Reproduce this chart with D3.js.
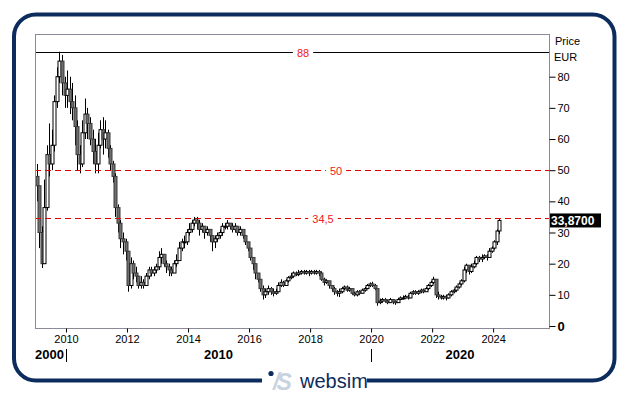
<!DOCTYPE html>
<html>
<head>
<meta charset="utf-8">
<script src="https://cdn.jsdelivr.net/npm/d3@7"></script>
<style>
  body { margin: 0; background: #fff; }
  svg { display: block; font-family: Arial, "Liberation Sans", sans-serif; }
</style>
</head>
<body>
<div id="chart"></div>
<script>
const W = 629, H = 395
const PLOT = {LEFT: 35, RIGHT: 549, TOP: 34, BOTTOM: 328}

// monthly candles, Jan 2009 .. Mar 2024 (open = previous close)
const firstOpen = 48
const closes = [
  45, 30, 20, 38, 55, 52, 58, 72, 80, 85, 78, 74,
  76, 72, 70, 64, 55, 52, 62, 68, 65, 60, 56, 52,
  58, 63, 60, 62, 57, 52, 48, 38, 33, 28, 27, 24,
  13, 20, 17, 16, 13, 14, 13, 16, 18, 17, 18, 19,
  22, 23, 20, 19, 18, 17, 20, 21, 25, 27, 27, 30,
  31, 33, 34, 33, 31, 32, 30, 31, 29, 27, 28, 29,
  30, 32, 32, 33, 32, 31, 32, 30, 31, 29, 27, 25,
  22, 20, 17, 15, 12, 10, 11, 12, 11, 10.5, 11, 13,
  14, 13, 14.5, 15.5, 16, 17, 16.5, 17, 17.5, 17, 17.5, 17,
  17.5, 17, 17.5, 17, 15, 14, 14.5, 13, 12, 11, 10.5, 11,
  12, 12.5, 11.5, 12, 10.5, 10, 11, 10.5, 11.5, 12, 13, 13.5,
  13, 12, 7.5, 8, 8.5, 8, 7.5, 8.5, 7.8, 7.5, 8.5, 9,
  9, 9.5, 9, 10.5, 11, 10.5, 11, 11.5, 11, 12, 13, 14,
  15, 10, 9.5, 9, 9.5, 9, 10, 11, 11.5, 12.5, 13.5, 14.5,
  18, 19.5, 17.5, 19, 20, 22, 21.5, 22, 22.5, 22, 24, 25,
  27, 30.5, 33.87
]
const highs = [
  52, 45, 32, 47, 58, 65, 63, 74, 83, 88, 87, 80,
  82, 80, 78, 74, 66, 58, 66, 73, 70, 67, 63, 60,
  62, 66, 67, 66, 63, 58, 53, 49, 39, 34, 30, 28,
  24, 22, 21, 19, 16, 16, 15, 17, 19, 19, 19, 20,
  24, 25, 23, 21, 20, 19, 21, 23, 27, 28, 29, 31,
  33, 34, 35, 35, 34, 33, 32, 32, 31, 29, 29, 30,
  31, 33, 33, 34, 33, 33, 33, 32, 32, 31, 29, 27,
  25, 22, 20, 17, 15, 13, 12, 13, 12.5, 12, 12, 14,
  15, 14.5, 15, 16, 17, 17.5, 17.5, 18, 18, 18, 18, 18,
  18, 18, 18, 18, 17.5, 15.5, 15, 14.5, 13, 12.5, 11.5, 12,
  12.5, 13, 13, 12.5, 12, 11, 11.5, 11.5, 12, 12.5, 13.5, 14,
  14.2, 13.5, 12, 8.8, 9, 9, 8.5, 9, 8.5, 8.2, 9, 9.5,
  9.8, 10, 10, 11, 11.5, 11.5, 11.5, 12, 12, 12.5, 13.5, 14.5,
  15.8, 15, 11, 10, 10, 10, 10.5, 11.5, 12, 13, 14, 15,
  19, 20, 19.5, 20, 21, 22.5, 22.5, 23, 23, 23, 25, 25.5,
  27.5, 31, 34.3
]
const lows = [
  40, 25, 18.6, 20, 37, 48, 50, 56, 70, 78, 74, 70,
  70, 68, 66, 58, 50, 49, 51, 60, 60, 58, 52, 49,
  49, 57, 55, 57, 54, 50, 46, 35, 30, 25, 23, 21,
  11, 12, 15, 14, 12, 12, 12, 13, 15, 16, 16, 17,
  18, 20, 19, 17, 16, 16, 17, 19, 21, 24, 25, 26,
  29, 30, 32, 31, 29, 30, 28, 29, 27, 24, 25, 27,
  28, 29, 31, 31, 31, 30, 30, 29, 29, 28, 26, 24,
  21, 18, 15, 14, 11, 8.5, 9, 10, 10, 9.5, 10, 11,
  12.5, 12.5, 13, 14, 15, 15.5, 16, 16, 16.5, 16.5, 16.5, 16,
  16.5, 16.5, 16.5, 16, 14.5, 13, 13.5, 12, 11, 10, 9.5, 9.3,
  10.5, 11.5, 11, 11, 10, 9.5, 9.5, 10, 10.5, 11, 12, 12.5,
  12.5, 11.5, 6.5, 7, 7.5, 7.5, 7, 7.5, 7, 6.8, 7.5, 8.5,
  8.5, 8.8, 8.5, 9, 10, 10, 10, 10.5, 10.5, 11, 11.5, 12.5,
  13.5, 9, 8.5, 8.5, 8.5, 8.2, 8.8, 9.5, 10.5, 11, 12, 13,
  14, 17, 16.5, 17, 18.5, 19.5, 20.5, 20.5, 21.5, 21, 22, 23.5,
  24.5, 26, 29.5
]

const yTicks = [0, 10, 20, 30, 40, 50, 60, 70, 80]
const yearTicks = [2010, 2012, 2014, 2016, 2018, 2020, 2022, 2024]
const decades = [2000, 2010, 2020]
const levels = [88, 50, 34.5]
const levelLabels = ['88', '50', '34,5']
const levelLabelX = [303, 336, 323]
const lastLabel = '33,8700'

const months = d3.timeMonth.range(new Date(2009, 0, 1), new Date(2024, 3, 1))
const candles = months.map((m, i) => ({
  date: new Date(m.getFullYear(), m.getMonth(), 15),
  open: i === 0 ? firstOpen : closes[i - 1],
  close: closes[i],
  high: highs[i],
  low: lows[i]
}))

const x = d3.scaleTime()
  .domain([new Date(2008, 11, 26), new Date(2025, 9, 31)])
  .range([PLOT.LEFT, PLOT.RIGHT])
const y = d3.scaleLinear()
  .domain([-0.64, 93.7])
  .range([PLOT.BOTTOM, PLOT.TOP])

const svg = d3.select('#chart').append('svg')
  .attr('width', W)
  .attr('height', H)

// outer frame
svg.append('rect')
  .attr('x', 14).attr('y', 14.5)
  .attr('width', 600.5).attr('height', 366)
  .attr('rx', 22)
  .attr('fill', '#fff')
  .attr('stroke', '#0c2c5e')
  .attr('stroke-width', 4)

// logo gap in bottom border
svg.append('rect')
  .attr('x', 262).attr('y', 376)
  .attr('width', 105).attr('height', 12)
  .attr('fill', '#fff')

const logo = svg.append('g')
logo.append('circle').attr('cx', 271).attr('cy', 373.5).attr('r', 2.6).attr('fill', '#0c2c5e')
logo.append('text')
  .attr('x', 273).attr('y', 390)
  .attr('font-size', 23).attr('font-style', 'italic').attr('font-weight', 'bold')
  .attr('fill', '#c9d3e0')
  .attr('letter-spacing', -3)
  .text('/S')
logo.append('text')
  .attr('x', 300).attr('y', 388)
  .attr('font-size', 20)
  .attr('fill', '#0c2c5e')
  .text('websim')

// plot background
svg.append('rect')
  .attr('x', PLOT.LEFT).attr('y', PLOT.TOP)
  .attr('width', PLOT.RIGHT - PLOT.LEFT).attr('height', PLOT.BOTTOM - PLOT.TOP)
  .attr('fill', '#fff')

const plot = svg.append('g')

// candles
const bodyW = 3
const candle = plot.selectAll('g.candle')
  .data(candles)
  .enter().append('g')
  .attr('class', 'candle')

candle.append('line')
  .attr('x1', d => Math.round(x(d.date)) + 0.5)
  .attr('x2', d => Math.round(x(d.date)) + 0.5)
  .attr('y1', d => y(d.high))
  .attr('y2', d => y(d.low))
  .attr('stroke', '#000')
  .attr('stroke-width', 1)

candle.append('rect')
  .attr('x', d => Math.round(x(d.date)) + 0.5 - bodyW / 2)
  .attr('y', d => y(Math.max(d.open, d.close)))
  .attr('width', bodyW)
  .attr('height', d => Math.max(1, Math.abs(y(d.open) - y(d.close))))
  .attr('fill', d => d.close >= d.open ? '#fff' : '#6e6e6e')
  .attr('stroke', d => d.close >= d.open ? '#000' : '#3a3a3a')
  .attr('stroke-width', 1)

// horizontal levels
levels.forEach((lv, i) => {
  plot.append('line')
    .attr('x1', PLOT.LEFT).attr('x2', PLOT.RIGHT)
    .attr('y1', Math.round(y(lv)) + 0.5).attr('y2', Math.round(y(lv)) + 0.5)
    .attr('stroke', i === 0 ? '#000' : '#e00000')
    .attr('stroke-width', 1)
    .attr('stroke-dasharray', i === 0 ? null : '6,4')
  const t = plot.append('text')
    .attr('x', levelLabelX[i])
    .attr('y', Math.round(y(lv)) + 4.5)
    .attr('text-anchor', 'middle')
    .attr('font-size', 11)
    .attr('fill', '#f02020')
    .text(levelLabels[i])
  const bb = t.node().getBBox()
  plot.insert('rect', () => t.node())
    .attr('x', bb.x - 4).attr('y', bb.y)
    .attr('width', bb.width + 8).attr('height', bb.height)
    .attr('fill', '#fff')
})

// plot border
svg.append('rect')
  .attr('x', PLOT.LEFT + 0.5).attr('y', PLOT.TOP + 0.5)
  .attr('width', PLOT.RIGHT - PLOT.LEFT).attr('height', PLOT.BOTTOM - PLOT.TOP)
  .attr('fill', 'none')
  .attr('stroke', '#8a8a98')

// right axis
const yAxis = svg.append('g')
  .attr('transform', `translate(${PLOT.RIGHT + 0.5}, 0)`)
  .call(d3.axisRight(y).tickValues(yTicks).tickSize(6).tickPadding(2))
yAxis.select('.domain').remove()
yAxis.selectAll('line').attr('stroke', '#000')
yAxis.selectAll('text')
  .attr('font-family', 'Arial, "Liberation Sans", sans-serif')
  .attr('font-size', 11)
  .attr('fill', '#000')
  .filter(d => d === 0)
  .attr('font-weight', 'bold')
  .attr('font-size', 13)

svg.append('text').attr('x', 555).attr('y', 45).attr('font-size', 11).text('Price')
svg.append('text').attr('x', 554).attr('y', 61).attr('font-size', 11).text('EUR')

// last price tag
const lastY = y(closes[closes.length - 1])
svg.append('rect')
  .attr('x', PLOT.RIGHT + 1).attr('y', lastY - 7)
  .attr('width', 51).attr('height', 14)
  .attr('fill', '#000')
svg.append('text')
  .attr('x', PLOT.RIGHT + 2).attr('y', lastY + 4.5)
  .attr('font-size', 12).attr('font-weight', 'bold')
  .attr('fill', '#fff')
  .text(lastLabel)

// bottom axis
const xAxis = svg.append('g')
  .attr('transform', `translate(0, ${PLOT.BOTTOM + 0.5})`)
  .call(d3.axisBottom(x)
    .tickValues(yearTicks.map(yr => new Date(yr, 0, 1)))
    .tickFormat(d3.timeFormat('%Y'))
    .tickSize(4).tickPadding(3))
xAxis.select('.domain').remove()
xAxis.selectAll('line').attr('stroke', '#000')
xAxis.selectAll('text')
  .attr('font-family', 'Arial, "Liberation Sans", sans-serif')
  .attr('font-size', 11)
  .attr('fill', '#000')

// decade row
decades.forEach(dec => {
  const x0 = Math.max(PLOT.LEFT, x(new Date(dec, 0, 1)))
  const x1 = Math.min(PLOT.RIGHT, x(new Date(dec + 10, 0, 1)))
  svg.append('text')
    .attr('x', dec === 2000 ? x0 : (x0 + x1) / 2)
    .attr('y', 359)
    .attr('text-anchor', dec === 2000 ? 'start' : 'middle')
    .attr('font-size', 13)
    .attr('font-weight', 'bold')
    .text(dec)
})
;[2010, 2020].forEach(yr => {
  const xx = Math.round(x(new Date(yr, 0, 1))) + 0.5
  svg.append('line')
    .attr('x1', xx).attr('x2', xx)
    .attr('y1', 349).attr('y2', 362)
    .attr('stroke', '#000')
})
</script>
</body>
</html>
